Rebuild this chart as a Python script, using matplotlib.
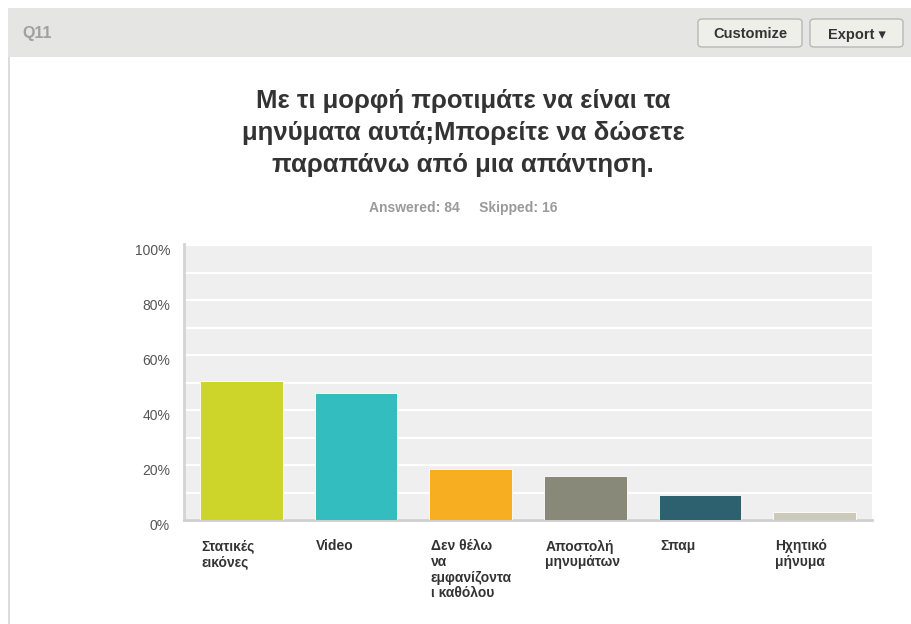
import matplotlib
matplotlib.use("Agg")
import matplotlib.pyplot as plt
from matplotlib.patches import Rectangle, FancyBboxPatch
from matplotlib.transforms import ScaledTranslation

plt.rcParams['font.family'] = ['Liberation Sans', 'DejaVu Sans']

categories = ["Στατικές\nεικόνες", "Video", "Δεν θέλω\nνα\nεμφανίζοντα\nι καθόλου",
              "Αποστολή\nμηνυμάτων", "Σπαμ", "Ηχητικό\nμήνυμα"]
percentages = [50.6, 46.1, 18.5, 16.0, 9.0, 3.0]
bar_colors = ["#CED52A", "#33BDBE", "#F7AF21", "#888978", "#2E6170", "#CCCBBA"]
yticks = [0, 20, 40, 60, 80, 100]
ytick_labels = ["0%", "20%", "40%", "60%", "80%", "100%"]

title = "Με τι μορφή προτιμάτε να είναι τα\nμηνύματα αυτά;Μπορείτε να δώσετε\nπαραπάνω από μια απάντηση."
subtitle = "Answered: 84     Skipped: 16"
question_id = "Q11"

W, H = 911, 624
fig = plt.figure(figsize=(W / 100, H / 100), dpi=100)
fig.patch.set_facecolor("white")

def fx(px):
    return px / W

def fy(py):
    return 1 - py / H

# page frame: header strip and left border
fig.add_artist(Rectangle((fx(8), fy(57)), fx(W) - fx(8), fy(8) - fy(57),
                         transform=fig.transFigure, facecolor="#e5e5e3", edgecolor="none"))
fig.add_artist(Rectangle((fx(8), 0), fx(1.5), fy(57),
                         transform=fig.transFigure, facecolor="#dcdcdc", edgecolor="none"))
fig.text(fx(22), fy(38), question_id, fontsize=11.5, fontweight="bold", color="#a0a0a0",
         ha="left", va="baseline")

# header buttons
for x0, x1, label in [(698, 802, "Customize"), (810, 903, "Export ▾")]:
    fig.add_artist(FancyBboxPatch((fx(x0), fy(47)), fx(x1 - x0), fy(19) - fy(47),
                                  boxstyle="round,pad=0,rounding_size=0.005",
                                  transform=fig.transFigure, facecolor="#efefea",
                                  edgecolor="#b8b8b4", linewidth=1))
    fig.text(fx((x0 + x1) / 2), fy(38.5), label, fontsize=10.5, fontweight="bold",
             color="#333333", ha="center", va="baseline")

# titles
fig.text(fx(463), fy(133), title, fontsize=18.5, fontweight="bold", color="#333333",
         ha="center", va="center", linespacing=1.42)
fig.text(fx(463), fy(208), subtitle, fontsize=10, fontweight="bold", color="#9a9a9a",
         ha="center", va="center")

# chart
ax = fig.add_axes([fx(184), fy(520), fx(872) - fx(184), fy(244) - fy(520)])
ax.set_facecolor("#efefef")
x = list(range(len(categories)))
bars = ax.bar(x, percentages, width=0.72, color=bar_colors, zorder=3)
for b in bars:
    b.set_edgecolor("white")
    b.set_linewidth(0.6)

ax.set_xlim(-0.5, len(categories) - 0.5)
ax.set_ylim(0, 100.4)
ax.set_yticks(yticks)
ax.set_yticklabels(ytick_labels, fontsize=10, color="#555555")
ax.set_yticks(range(10, 100, 10), minor=True)
ax.yaxis.grid(True, which="both", color="white", linewidth=1.6, zorder=1)
ax.set_axisbelow(True)
ax.tick_params(axis="y", which="both", length=0, pad=10)
shift = ScaledTranslation(0, -4 / 100, fig.dpi_scale_trans)
for lbl in ax.get_yticklabels():
    lbl.set_transform(lbl.get_transform() + shift)
ax.set_xticks([])
for side in ["top", "right"]:
    ax.spines[side].set_visible(False)
ax.spines["left"].set_color("#d4d4d4")
ax.spines["left"].set_linewidth(2)
ax.spines["bottom"].set_color("#cfcfcf")
ax.spines["bottom"].set_linewidth(2)

for xi, label in zip(x, categories):
    ax.annotate(label, xy=(xi - 0.36, 0), xycoords="data",
                xytext=(1, -14), textcoords="offset points",
                ha="left", va="top", fontsize=10, color="#333333",
                fontweight="bold", linespacing=1.15)

fig.savefig("out.png", dpi=100, facecolor="white")
